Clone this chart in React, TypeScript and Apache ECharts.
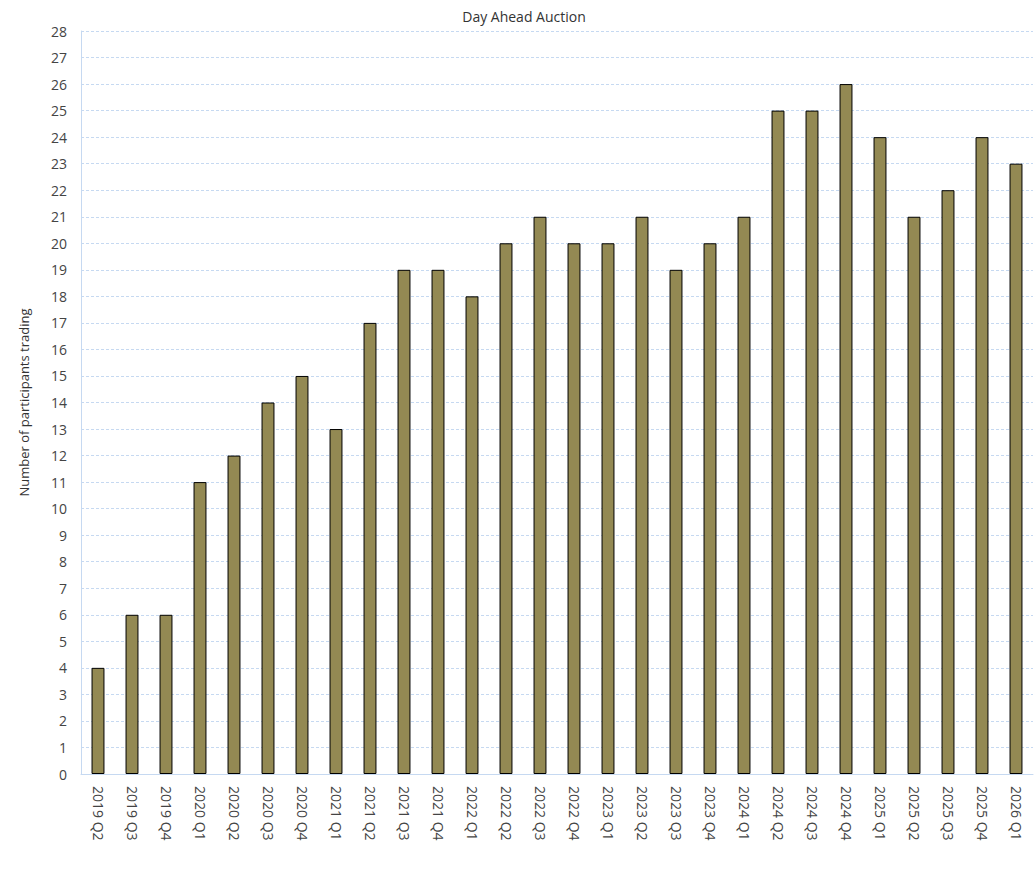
import React, { useEffect, useRef } from "react";
import * as echarts from "echarts";

const categories = [
  "2019 Q2", "2019 Q3", "2019 Q4", "2020 Q1", "2020 Q2", "2020 Q3", "2020 Q4",
  "2021 Q1", "2021 Q2", "2021 Q3", "2021 Q4", "2022 Q1", "2022 Q2", "2022 Q3",
  "2022 Q4", "2023 Q1", "2023 Q2", "2023 Q3", "2023 Q4", "2024 Q1", "2024 Q2",
  "2024 Q3", "2024 Q4", "2025 Q1", "2025 Q2", "2025 Q3", "2025 Q4", "2026 Q1",
];
const participants = [
  4, 6, 6, 11, 12, 14, 15, 13, 17, 19, 19, 18, 20, 21, 20, 20, 21, 19, 20, 21,
  25, 25, 26, 24, 21, 22, 24, 23,
];

const FONT = "'Open Sans', 'Noto Sans', sans-serif";

export default function App() {
  const ref = useRef<HTMLDivElement>(null);
  useEffect(() => {
    if (!ref.current) return;
    const chart = echarts.init(ref.current, undefined, { renderer: "svg" });
    chart.setOption({
      animation: false,
      backgroundColor: "#ffffff",
      title: {
        text: "Day Ahead Auction",
        left: 519,
        textAlign: "center",
        top: 4,
        textStyle: { fontFamily: FONT, fontSize: 14, fontWeight: "normal", color: "#333" },
      },
      grid: { left: 81, right: 2, top: 31, bottom: 105, containLabel: false },
      xAxis: {
        type: "category",
        data: categories,
        axisLine: { lineStyle: { color: "#c6d9f1", width: 1 } },
        axisTick: { show: false },
        axisLabel: {
          rotate: -90,
          interval: 0,
          margin: 12,
          fontFamily: FONT,
          fontSize: 14,
          color: "#444",
        },
      },
      yAxis: {
        type: "value",
        min: 0,
        max: 28,
        interval: 1,
        name: "Number of participants trading",
        nameLocation: "middle",
        nameGap: 51,
        nameTextStyle: { fontFamily: FONT, fontSize: 13, color: "#333" },
        axisLine: { show: true, lineStyle: { color: "#c6d9f1", width: 1 } },
        axisTick: { show: false },
        splitLine: { lineStyle: { color: "#c6d9f1", type: [3, 2], width: 1 } },
        axisLabel: { fontFamily: FONT, fontSize: 14, color: "#444", margin: 14 },
      },
      series: [
        {
          type: "bar",
          data: participants,
          barWidth: "38%",
          itemStyle: { color: "#938953", borderColor: "#000", borderWidth: 1 },
        },
      ],
    });
    return () => chart.dispose();
  }, []);
  return (
    <div
      ref={ref}
      style={{ position: "fixed", left: 0, top: 0, width: 1035, height: 879 }}
    />
  );
}
